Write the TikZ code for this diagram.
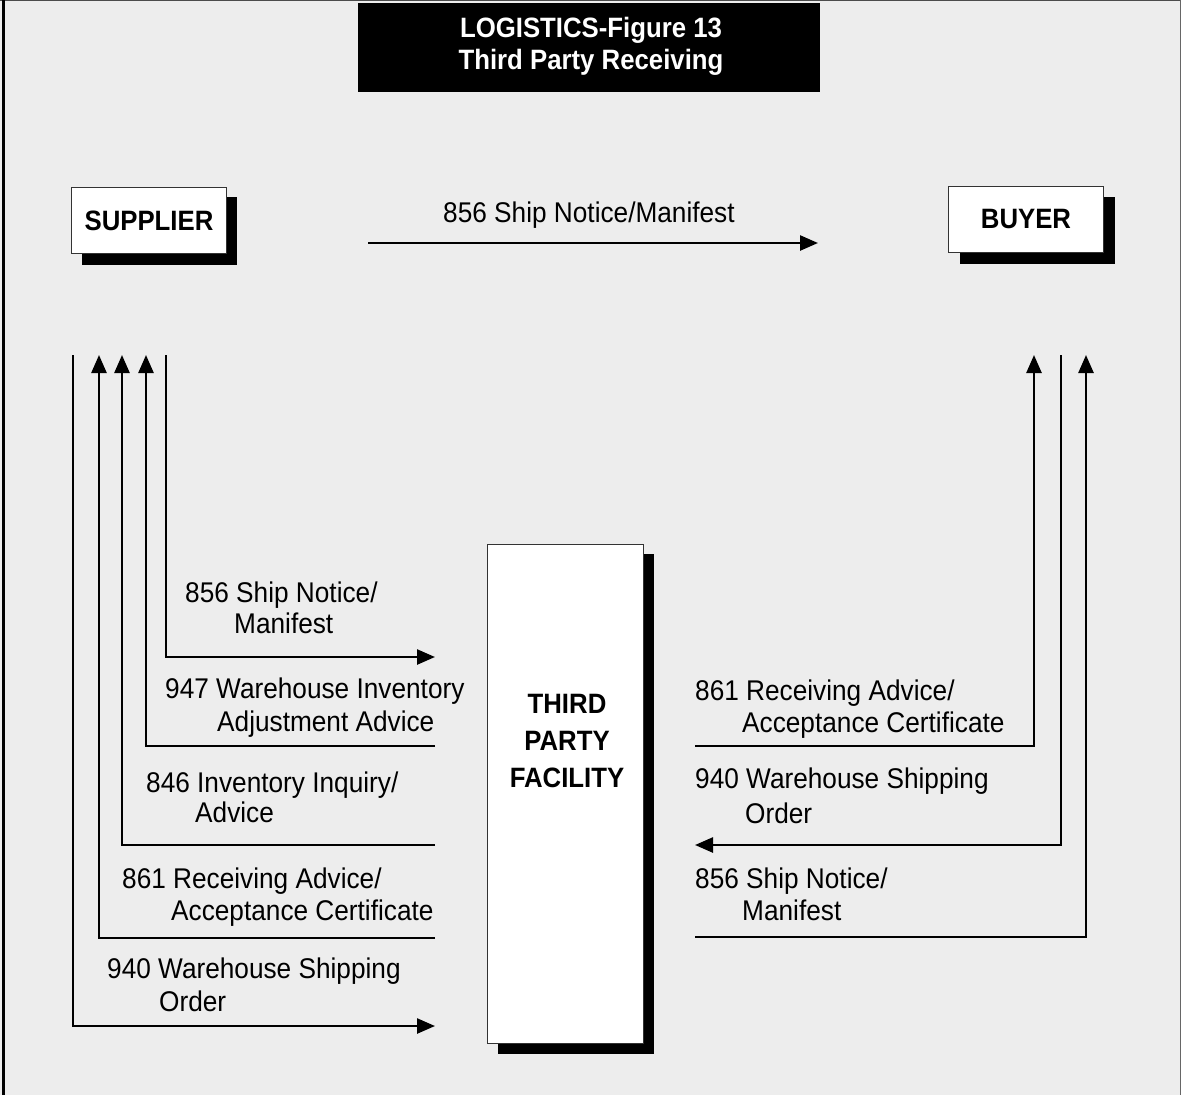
\documentclass[tikz,border=0pt]{standalone}
\usepackage{fontspec}
\setmainfont{Liberation Sans}[FakeStretch=0.92]
\usetikzlibrary{arrows.meta}
\definecolor{bg}{RGB}{237,237,237}
\begin{document}
\begin{tikzpicture}[x=1pt,y=-1pt,
  lbl/.style={anchor=base west,inner sep=0pt,font=\fontsize{28.5}{30}\selectfont},
  conn/.style={line width=2.5pt},
  arr/.style={conn,-{Triangle[length=18pt,width=15pt]}},
  box/.style={draw=black!80,line width=1pt,fill=white,inner sep=0pt,anchor=north west},
  shadow/.style={fill=black},
  boxtext/.style={font=\fontsize{28}{30}\selectfont\bfseries,inner sep=0pt}]
\fill[bg] (0,0) rectangle (1181,1095);
\useasboundingbox (0,0) rectangle (1181,1095);
\draw[black!70,line width=1.2pt] (0,0.6)--(1181,0.6);
\draw[black!60,line width=1pt] (1180.5,0)--(1180.5,1095);
\draw[black,line width=3pt] (3.5,0)--(3.5,1095);
% title
\node[fill=black,inner sep=0pt,minimum width=462pt,minimum height=89pt,anchor=north west] (title) at (358,3) {};
\node[boxtext,white,anchor=base] (t1) at (591,37) {LOGISTICS-Figure 13};
\node[boxtext,white,anchor=base] (t2) at (591,69) {Third Party Receiving};
% supplier
\fill[shadow] (82,197) rectangle (237,265);
\node[box,minimum width=155pt,minimum height=66pt,boxtext] (sup) at (71,187) {SUPPLIER};
% buyer
\fill[shadow] (960,197) rectangle (1115,264);
\node[box,minimum width=155pt,minimum height=66pt,boxtext] (buy) at (948,186) {BUYER};
% facility
\fill[shadow] (498,554) rectangle (654,1054);
\node[box,minimum width=156pt,minimum height=499pt] (fac) at (487,544) {};
\node[boxtext,align=center,font=\fontsize{28}{37}\selectfont\bfseries] (factext) at (567,741) {THIRD\\PARTY\\FACILITY};
% coordinates
\coordinate (T1) at (368,243);
\coordinate (T2) at (818,243);
\coordinate (L1) at (73,355);
\coordinate (L2) at (99,355);
\coordinate (L3) at (122,355);
\coordinate (L4) at (146,355);
\coordinate (L5) at (166,355);
\coordinate (F1) at (435,1026);
\coordinate (F2) at (435,938);
\coordinate (F3) at (435,845);
\coordinate (F4) at (435,746);
\coordinate (F5) at (435,657);
\coordinate (B1) at (1034,355);
\coordinate (B2) at (1061,355);
\coordinate (B3) at (1086,355);
\coordinate (R1) at (695,746);
\coordinate (R2) at (695,845);
\coordinate (R3) at (695,937);
% connectors
\draw[arr] (T1) -- (T2);
\draw[arr] (L1) |- (F1);
\draw[arr] (F2) -| (L2);
\draw[arr] (F3) -| (L3);
\draw[arr] (F4) -| (L4);
\draw[arr] (L5) |- (F5);
\draw[arr] (R1) -| (B1);
\draw[arr] (B2) |- (R2);
\draw[arr] (R3) -| (B3);
% labels
\node[lbl] (top) at (443,222) {856 Ship Notice/Manifest};
\node[lbl] (a1) at (185,602) {856 Ship Notice/};
\node[lbl] (a2) at (234,633) {Manifest};
\node[lbl] (b1) at (165,698) {947 Warehouse Inventory};
\node[lbl] (b2) at (217,731) {Adjustment Advice};
\node[lbl] (c1) at (146,792) {846 Inventory Inquiry/};
\node[lbl] (c2) at (195,822) {Advice};
\node[lbl] (d1) at (122,888) {861 Receiving Advice/};
\node[lbl] (d2) at (171,920) {Acceptance Certificate};
\node[lbl] (e1) at (107,978) {940 Warehouse Shipping};
\node[lbl] (e2) at (159,1011) {Order};
\node[lbl] (r1) at (695,700) {861 Receiving Advice/};
\node[lbl] (r2) at (742,732) {Acceptance Certificate};
\node[lbl] (s1) at (695,788) {940 Warehouse Shipping};
\node[lbl] (s2) at (745,823) {Order};
\node[lbl] (u1) at (695,888) {856 Ship Notice/};
\node[lbl] (u2) at (742,920) {Manifest};
\end{tikzpicture}
\end{document}
